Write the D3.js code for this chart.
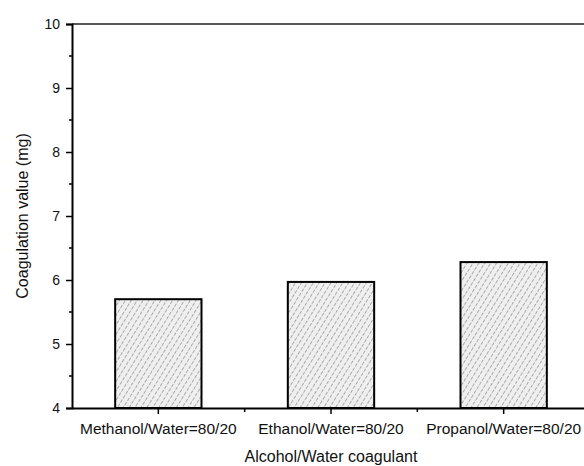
<!DOCTYPE html>
<html>
<head>
<meta charset="utf-8">
<script src="https://cdn.jsdelivr.net/npm/d3@7"></script>
<style>
  body { margin: 0; background: #fff; }
  text { font-family: "Liberation Sans", Arial, sans-serif; fill: #111; }
</style>
</head>
<body>
<svg id="chart" width="584" height="466"></svg>
<script>
// coagulation values
var categories = ["Methanol/Water=80/20", "Ethanol/Water=80/20", "Propanol/Water=80/20"];
var values = [5.70, 5.97, 6.28];
var yTicks = [4, 5, 6, 7, 8, 9, 10];
var yMinorTicks = [4.5, 5.5, 6.5, 7.5, 8.5, 9.5];

var svg = d3.select("#chart");
var plotLeft = 72, plotRight = 590, plotTop = 24, plotBottom = 408;

var xScale = d3.scaleBand()
    .domain(categories)
    .range([plotLeft, plotRight])
    .paddingInner(0.5)
    .paddingOuter(0.25);

var yScale = d3.scaleLinear()
    .domain([4, 10])
    .range([plotBottom, plotTop]);

// hatch fill for the bars
var defs = svg.append("defs");
var pat = defs.append("pattern")
    .attr("id", "hatch")
    .attr("patternUnits", "userSpaceOnUse")
    .attr("width", 5)
    .attr("height", 5)
    .attr("patternTransform", "rotate(32)");
pat.append("rect").attr("width", 5).attr("height", 5).attr("fill", "#efefef");
pat.append("line")
    .attr("x1", 0).attr("y1", 0).attr("x2", 0).attr("y2", 5)
    .attr("stroke", "#555")
    .attr("stroke-width", 0.9)
    .attr("stroke-dasharray", "2.5,1.5");

// bars
svg.append("g").selectAll("rect")
    .data(values)
    .enter().append("rect")
    .attr("x", function(d, i) { return xScale(categories[i]); })
    .attr("y", function(d) { return yScale(d); })
    .attr("width", xScale.bandwidth())
    .attr("height", function(d) { return plotBottom - yScale(d); })
    .attr("fill", "url(#hatch)")
    .attr("stroke", "#000")
    .attr("stroke-width", 2);

// top frame line
svg.append("line")
    .attr("x1", plotLeft).attr("x2", 584)
    .attr("y1", plotTop).attr("y2", plotTop)
    .attr("stroke", "#222")
    .attr("stroke-width", 1.5);

// y axis
var yAxis = d3.axisLeft(yScale)
    .tickValues(yTicks)
    .tickSize(6)
    .tickPadding(6)
    .tickFormat(d3.format("d"));
var gy = svg.append("g")
    .attr("transform", "translate(" + plotLeft + ",0)")
    .call(yAxis);
gy.select(".domain").attr("stroke-width", 2);
gy.selectAll(".tick line").attr("stroke-width", 1.5);
gy.selectAll("text").style("font-size", "14px");

svg.append("g").selectAll("line")
    .data(yMinorTicks)
    .enter().append("line")
    .attr("x1", plotLeft - 3).attr("x2", plotLeft)
    .attr("y1", function(d) { return yScale(d); })
    .attr("y2", function(d) { return yScale(d); })
    .attr("stroke", "#000")
    .attr("stroke-width", 1.5);

// x axis
var xAxis = d3.axisBottom(xScale)
    .tickSize(6)
    .tickSizeOuter(0)
    .tickPadding(9);
var gx = svg.append("g")
    .attr("transform", "translate(0," + plotBottom + ")")
    .call(xAxis);
gx.select(".domain").attr("stroke-width", 2);
gx.selectAll(".tick line").attr("stroke-width", 1.5);
gx.selectAll("text").style("font-size", "15.5px");

// minor ticks between categories
var step = xScale.step();
svg.append("g").selectAll("line")
    .data(categories.slice(0, -1))
    .enter().append("line")
    .attr("x1", function(d) { return xScale(d) + xScale.bandwidth() / 2 + step / 2; })
    .attr("x2", function(d) { return xScale(d) + xScale.bandwidth() / 2 + step / 2; })
    .attr("y1", plotBottom).attr("y2", plotBottom + 4)
    .attr("stroke", "#000")
    .attr("stroke-width", 1.5);

// axis titles
svg.append("text")
    .attr("x", 331).attr("y", 462)
    .attr("text-anchor", "middle")
    .style("font-size", "16px")
    .text("Alcohol/Water coagulant");

svg.append("text")
    .attr("transform", "translate(28," + (plotTop + plotBottom) / 2 + ") rotate(-90)")
    .attr("text-anchor", "middle")
    .style("font-size", "16px")
    .text("Coagulation value (mg)");
</script>
</body>
</html>
